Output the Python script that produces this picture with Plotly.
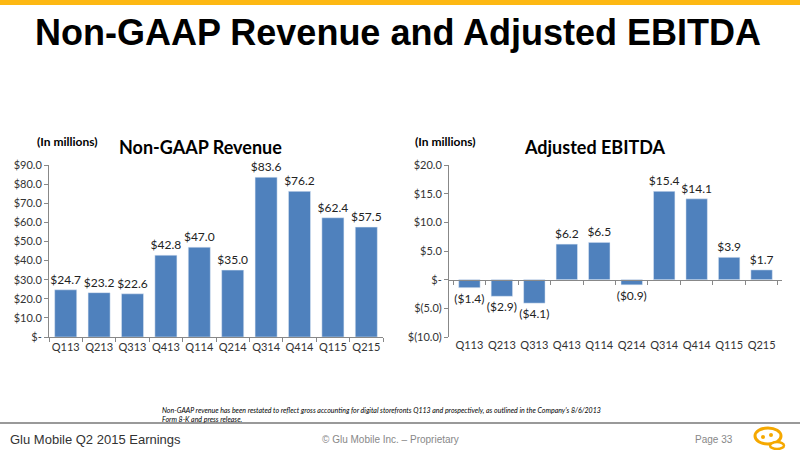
import plotly.graph_objects as go

quarters = ["Q113", "Q213", "Q313", "Q413", "Q114", "Q214", "Q314", "Q414", "Q115", "Q215"]
revenue = [24.7, 23.2, 22.6, 42.8, 47.0, 35.0, 83.6, 76.2, 62.4, 57.5]
ebitda = [-1.4, -2.9, -4.1, 6.2, 6.5, -0.9, 15.4, 14.1, 3.9, 1.7]

rev_tickvals = [0, 10, 20, 30, 40, 50, 60, 70, 80, 90]
rev_ticktext = ["$-", "$10.0", "$20.0", "$30.0", "$40.0", "$50.0", "$60.0", "$70.0", "$80.0", "$90.0"]
eb_tickvals = [-10, -5, 0, 5, 10, 15, 20]
eb_ticktext = ["$(10.0)", "$(5.0)", "$-", "$5.0", "$10.0", "$15.0", "$20.0"]

BLUE = "#4F81BD"
FONT = "Lato"
W, H = 800, 450


def fmt(v):
    return f"(${abs(v):.1f})" if v < 0 else f"${v:.1f}"


fig = go.Figure()
fig.add_trace(go.Bar(x=quarters, y=revenue, marker_color=BLUE, text=[fmt(v) for v in revenue],
                     textposition="outside", cliponaxis=False, constraintext="none", xaxis="x", yaxis="y",
                     textfont=dict(family=FONT, size=12, color="#222")))
fig.add_trace(go.Bar(x=quarters, y=ebitda, marker_color=BLUE, text=[fmt(v) for v in ebitda],
                     textposition="outside", cliponaxis=False, constraintext="none", xaxis="x2", yaxis="y2",
                     textfont=dict(family=FONT, size=12, color="#222")))
# invisible trace for the zero-line category axis of the right chart
fig.add_trace(go.Scatter(x=quarters, y=ebitda, mode="markers", marker=dict(opacity=0),
                         xaxis="x3", yaxis="y2", hoverinfo="skip", showlegend=False))

ydom = [1 - 337 / H, 1 - 165 / H]
eb_range = [-10, 20]
zero_pos = ydom[0] + (0 - eb_range[0]) / (eb_range[1] - eb_range[0]) * (ydom[1] - ydom[0])

axfont = dict(family=FONT, size=11, color="#333")
fig.update_layout(
    width=W, height=H, margin=dict(l=0, r=0, t=0, b=0, autoexpand=False),
    paper_bgcolor="white", plot_bgcolor="white", showlegend=False, bargap=0.34,
    xaxis=dict(domain=[49 / W, 383 / W], anchor="y", type="category", showline=True,
               linecolor="#888", linewidth=1, ticks="outside", tickson="boundaries",
               ticklen=4, tickcolor="#888", tickfont=axfont, tickangle=0, showgrid=False,
               automargin=False),
    yaxis=dict(domain=ydom, anchor="x", range=[0, 90], tickvals=rev_tickvals, ticktext=rev_ticktext,
               showline=True, linecolor="#888", ticks="outside", ticklen=4, tickcolor="#888",
               tickfont=axfont, showgrid=False, zeroline=False, automargin=False),
    xaxis2=dict(domain=[449 / W, 782 / W], anchor="y2", type="category", showline=False,
                ticks="", tickfont=axfont, tickangle=0, showgrid=False, automargin=False),
    xaxis3=dict(domain=[449 / W, 782 / W], anchor="free", position=zero_pos, overlaying="x2",
                type="category", showline=True, linecolor="#888", ticks="outside",
                tickson="boundaries", ticklen=4, tickcolor="#888", showticklabels=False,
                showgrid=False, matches="x2", automargin=False),
    yaxis2=dict(domain=ydom, anchor="x2", range=eb_range, tickvals=eb_tickvals, ticktext=eb_ticktext,
                showline=True, linecolor="#888", ticks="outside", ticklen=4, tickcolor="#888",
                tickfont=axfont, showgrid=False, zeroline=False, automargin=False),
)

ORANGE = "#F5A800"
shapes = [
    dict(type="rect", xref="paper", yref="paper", x0=0, x1=1, y0=1 - 5 / H, y1=1,
         fillcolor="#FDB813", line_width=0),
    dict(type="line", xref="paper", yref="paper", x0=0, x1=1, y0=1 - 423 / H, y1=1 - 423 / H,
         line=dict(color="#999", width=2)),
    # logo
    dict(type="circle", xref="paper", yref="paper", x0=755 / W, x1=781 / W, y0=1 - 444 / H, y1=1 - 428 / H,
         line=dict(color=ORANGE, width=3), fillcolor="white"),
    dict(type="circle", xref="paper", yref="paper", x0=770 / W, x1=784 / W, y0=1 - 449 / H, y1=1 - 442 / H,
         line=dict(color=ORANGE, width=2.5), fillcolor="white"),
    dict(type="circle", xref="paper", yref="paper", x0=761 / W, x1=765 / W, y0=1 - 439 / H, y1=1 - 435 / H,
         fillcolor=ORANGE, line_width=0),
    dict(type="circle", xref="paper", yref="paper", x0=769 / W, x1=773 / W, y0=1 - 437 / H, y1=1 - 433 / H,
         fillcolor=ORANGE, line_width=0),
]
fig.update_layout(shapes=shapes)

ann = []
def text(x, y, s, size, bold=False, family="Liberation Sans", color="#000", xanchor="left", italic=False):
    if bold:
        s = f"<b>{s}</b>"
    if italic:
        s = f"<i>{s}</i>"
    ann.append(dict(xref="paper", yref="paper", x=x / W, y=1 - y / H, text=s, showarrow=False,
                    xanchor=xanchor, yanchor="middle", font=dict(family=family, size=size, color=color)))

text(398, 32, "Non-GAAP Revenue and Adjusted EBITDA", 36, bold=True, family="Liberation Sans", xanchor="center")
text(35, 141, "(In millions)", 12, bold=True, family=FONT)
text(200, 147, "Non-GAAP Revenue", 18, bold=True, family=FONT, xanchor="center")
text(413, 141, "(In millions)", 12, bold=True, family=FONT)
text(595, 147, "Adjusted EBITDA", 18, bold=True, family=FONT, xanchor="center")
text(160, 410, "Non-GAAP revenue has been restated to reflect gross accounting for digital storefronts Q113 and prospectively, as outlined in the Company's 8/6/2013",
     7, italic=True, family=FONT)
text(160, 419, "Form 8-K and press release.", 7, italic=True, family=FONT)
text(8, 439, "Glu Mobile Q2 2015 Earnings", 13, family="Liberation Sans", color="#333")
text(390, 439, "© Glu Mobile Inc. – Proprietary", 10, family="Liberation Sans", color="#888", xanchor="center")
text(693, 439, "Page 33", 10, family="Liberation Sans", color="#888")
fig.update_layout(annotations=ann)

fig.write_html("out.html", config={"displayModeBar": False},
               post_script="document.body.style.margin='0';")
